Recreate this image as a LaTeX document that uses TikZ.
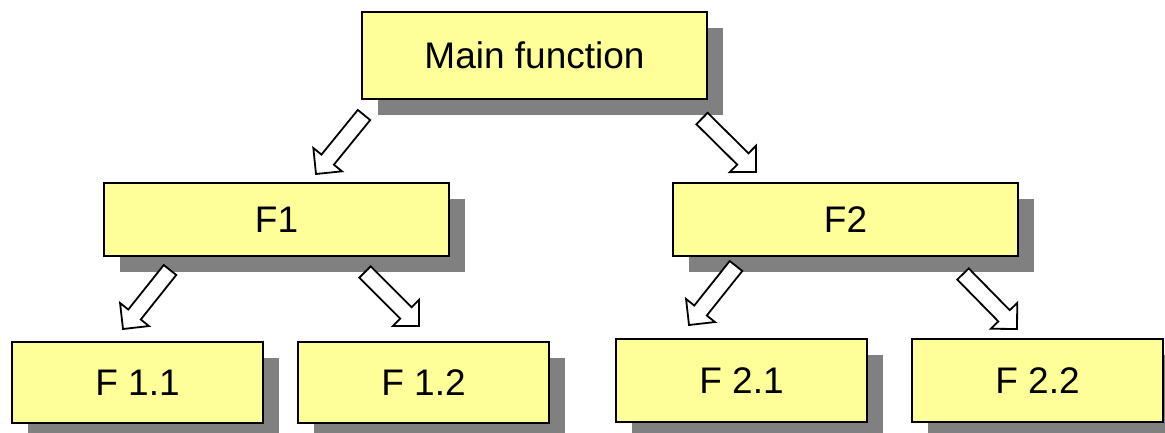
\documentclass[tikz,border=0pt]{standalone}
\usepackage{fontspec}
\setmainfont{Liberation Sans}
\usetikzlibrary{calc,shadows}
\definecolor{boxfill}{HTML}{FFFF99}
\definecolor{shadowgray}{HTML}{808080}
\tikzset{
  fbox/.style={draw=black, line width=1.3pt, fill=boxfill, inner sep=0pt,
    font=\fontsize{37}{44}\selectfont,
    general shadow={fill=shadowgray, shadow xshift=16pt, shadow yshift=-16pt}},
  blockarrow/.style={draw=black, fill=white, line width=1.8pt, line join=miter}
}
\newcommand{\blockarr}[2]{%
  \coordinate (hb) at ($(#2)!18.5pt!(#1)$);
  \draw[blockarrow] ($(#1)!8pt!90:(#2)$) -- ($(hb)!8pt!90:(#2)$) -- ($(hb)!18.5pt!90:(#2)$)
    -- (#2) -- ($(hb)!18.5pt!-90:(#2)$) -- ($(hb)!8pt!-90:(#2)$) -- ($(#1)!8pt!-90:(#2)$) -- cycle;}
\begin{document}
\begin{tikzpicture}[x=1pt,y=-1pt]
\useasboundingbox (0,0) rectangle (1165,433);
\node[fbox, minimum width=345pt, minimum height=87pt] (main) at (534.5,55.5) {Main function};
\node[fbox, minimum width=345pt, minimum height=73pt] (f1) at (276.5,219.5) {F1};
\node[fbox, minimum width=345pt, minimum height=73pt] (f2) at (845.5,219.5) {F2};
\node[fbox, minimum width=251pt, minimum height=81pt] (f11) at (137.5,382.5) {F 1.1};
\node[fbox, minimum width=251pt, minimum height=81pt] (f12) at (423.5,382.5) {F 1.2};
\node[fbox, minimum width=251pt, minimum height=83pt] (f21) at (741.5,380.5) {F 2.1};
\node[fbox, minimum width=251pt, minimum height=83pt] (f22) at (1037.5,380.5) {F 2.2};
\coordinate (a1t) at (364,115);   \coordinate (a1h) at (316,174);
\coordinate (a2t) at (702,118.5); \coordinate (a2h) at (756,172);
\coordinate (a3t) at (170,270);   \coordinate (a3h) at (123,329);
\coordinate (a4t) at (365,272);   \coordinate (a4h) at (419,326);
\coordinate (a5t) at (736,266);   \coordinate (a5h) at (689,325);
\coordinate (a6t) at (963,274);   \coordinate (a6h) at (1017,329);
\blockarr{a1t}{a1h}
\blockarr{a2t}{a2h}
\blockarr{a3t}{a3h}
\blockarr{a4t}{a4h}
\blockarr{a5t}{a5h}
\blockarr{a6t}{a6h}
\end{tikzpicture}
\end{document}
